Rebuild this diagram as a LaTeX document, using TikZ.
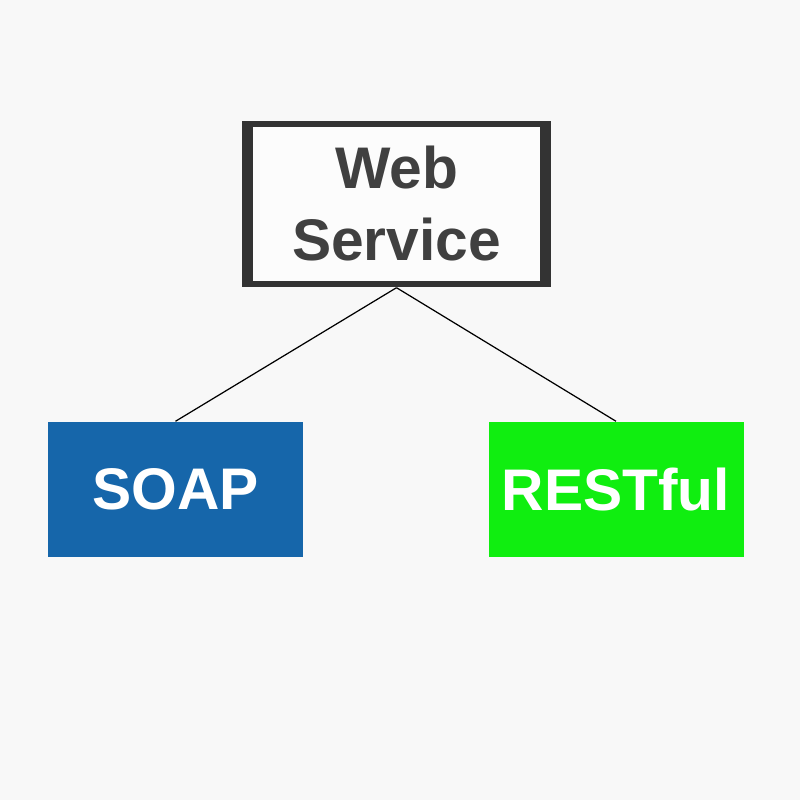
\documentclass[tikz,border=0pt]{standalone}
\usepackage{fontspec}
\setmainfont{Liberation Sans}
\definecolor{paper}{HTML}{F8F8F8}
\definecolor{framegray}{HTML}{333333}
\definecolor{labelgray}{HTML}{404040}
\definecolor{soapblue}{HTML}{1666AA}
\definecolor{restgreen}{HTML}{10EE10}

\begin{document}
\begin{tikzpicture}[
        label font/.style={font=\fontsize{16.7}{20.5}\selectfont\bfseries},
        kindbox/.style={label font, minimum width=2.55cm, minimum height=1.35cm, inner sep=0pt, text=white},
        link/.style={line width=0.35pt, black}]
                \fill[paper] (0,0) rectangle (8,8);
                \useasboundingbox (0,0) rectangle (8,8);
                % top box: dark frame with a pale inside
                \node[fill=framegray, minimum width=3.09cm, minimum height=1.66cm, inner sep=0pt] (frame) at (3.965,5.96) {};
                \node[fill=paper!40!white, minimum width=2.87cm, minimum height=1.54cm, inner sep=0pt, label font, text=labelgray, align=center] (web) at (frame.center) {Web\\Service};
                % the two kinds
                \node[kindbox, fill=soapblue] (soap) at (1.755,3.105) {SOAP};
                \node[kindbox, fill=restgreen] (rest) at (6.16,3.105) {RESTful};
                \draw[link] (frame.south) -- (soap.north);
                \draw[link] (frame.south) -- (rest.north);
            \end{tikzpicture}
\end{document}
